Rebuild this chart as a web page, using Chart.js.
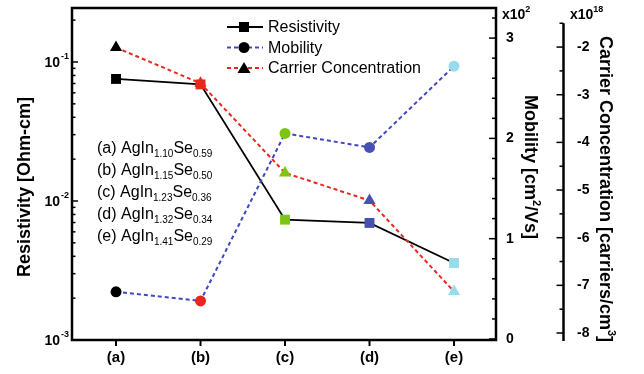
<!DOCTYPE html>
<html>
<head>
<meta charset="utf-8">
<script src="https://cdn.jsdelivr.net/npm/chart.js@4/dist/chart.umd.min.js"></script>
<style>
  body { margin: 0; background: #fff; }
  #wrap { width: 644px; height: 374px; position: relative; }
</style>
</head>
<body>
<div id="wrap"><canvas id="chart"></canvas></div>
<script>
// samples and measured values
const categories = ['(a)', '(b)', '(c)', '(d)', '(e)'];
const inSub = ['1.10', '1.15', '1.23', '1.32', '1.41'];
const seSub = ['0.59', '0.50', '0.36', '0.34', '0.29'];
const resistivity = [0.0755, 0.069, 0.00734, 0.00695, 0.00358];   // Ohm-cm
const mobility = [0.47, 0.38, 2.05, 1.91, 2.72];                  // x10^2 cm2/Vs
const carrier = [-2.01, -2.76, -4.64, -5.22, -7.13];              // x10^18 carriers/cm3
const pointColors = ['#000000', '#e8281e', '#7dc414', '#4652ae', '#96dcec'];

// axis ticks
const resistivityTicks = [0.001, 0.01, 0.1];
const resistivityTickLabels = ['-3', '-2', '-1'];
const mobilityTicks = [0, 1, 2, 3];
const carrierTicks = [-8, -7, -6, -5, -4, -3, -2];

const FONT = 'Arial, "Liberation Sans", sans-serif';

function toPoints(values) {
    return categories.map(function(c, i) { return { x: i, y: values[i] }; });
}

// draw a run of text pieces: [text, font, dy]
function drawRuns(ctx, runs, x, y, align) {
    let total = 0;
    runs.forEach(function(r) { ctx.font = r[1]; total += ctx.measureText(r[0]).width; });
    let cx = align === 'center' ? x - total / 2 : (align === 'right' ? x - total : x);
    ctx.textAlign = 'left';
    runs.forEach(function(r) {
        ctx.font = r[1];
        ctx.fillText(r[0], cx, y + (r[2] || 0));
        cx += ctx.measureText(r[0]).width;
    });
}

const axesPlugin = {
    id: 'axesPlugin',
    afterDraw: function(chart) {
        const ctx = chart.ctx;
        const area = chart.chartArea;
        const sx = chart.scales.x, sy = chart.scales.y, sm = chart.scales.yMob, sc = chart.scales.yCar;
        ctx.save();
        ctx.strokeStyle = '#000';
        ctx.fillStyle = '#000';
        ctx.lineCap = 'butt';

        // frame
        ctx.lineWidth = 2.5;
        ctx.strokeRect(area.left, area.top, area.right - area.left, area.bottom - area.top);

        // left log ticks (inward)
        ctx.lineWidth = 1.5;
        for (let k = -3; k <= -1; k++) {
            for (let m = 1; m <= 9; m++) {
                const v = m * Math.pow(10, k);
                if (v > sy.max) continue;
                const py = sy.getPixelForValue(v);
                const len = m === 1 ? 6 : 3.5;
                ctx.beginPath(); ctx.moveTo(area.left, py); ctx.lineTo(area.left + len, py); ctx.stroke();
            }
        }
        ctx.textBaseline = 'middle';
        resistivityTicks.forEach(function(v, i) {
            const py = sy.getPixelForValue(v);
            drawRuns(ctx, [['10', 'bold 14px ' + FONT, 0]], 60, py + 1, 'right');
            drawRuns(ctx, [[resistivityTickLabels[i], 'bold 9px ' + FONT, 0]], 61, py - 5, 'left');
        });

        // mobility axis ticks (inward, left)
        for (let v = 0; v <= 3.21; v += 0.2) {
            const py = sm.getPixelForValue(v);
            const major = Math.abs(v - Math.round(v)) < 0.01;
            ctx.beginPath(); ctx.moveTo(area.right, py); ctx.lineTo(area.right - (major ? 7 : 4), py); ctx.stroke();
        }
        mobilityTicks.forEach(function(v) {
            drawRuns(ctx, [[String(v), 'bold 14px ' + FONT, 0]], 506, sm.getPixelForValue(v), 'left');
        });
        drawRuns(ctx, [['x10', 'bold 14px ' + FONT, 0], ['2', 'bold 9px ' + FONT, -5]], 502, 15, 'left');

        // carrier concentration axis
        const cx = 563.5;
        ctx.lineWidth = 2.5;
        ctx.beginPath(); ctx.moveTo(cx, sc.getPixelForValue(-1.5)); ctx.lineTo(cx, area.bottom + 1); ctx.stroke();
        ctx.lineWidth = 1.5;
        for (let v = -8; v <= -1.49; v += 0.5) {
            const py = sc.getPixelForValue(v);
            const major = Math.abs(v - Math.round(v)) < 0.01;
            ctx.beginPath(); ctx.moveTo(cx, py); ctx.lineTo(cx - (major ? 7 : 4), py); ctx.stroke();
        }
        carrierTicks.forEach(function(v) {
            drawRuns(ctx, [[String(v), 'bold 14px ' + FONT, 0]], 577, sc.getPixelForValue(v), 'left');
        });
        drawRuns(ctx, [['x10', 'bold 14px ' + FONT, 0], ['18', 'bold 9px ' + FONT, -5]], 570, 15, 'left');

        // x ticks and labels
        ctx.lineWidth = 2;
        categories.forEach(function(c, i) {
            const px = sx.getPixelForValue(i);
            ctx.beginPath(); ctx.moveTo(px, area.bottom); ctx.lineTo(px, area.bottom + 6); ctx.stroke();
            drawRuns(ctx, [[c, 'bold 15px ' + FONT, 0]], px, 358, 'center');
        });

        // axis titles
        const tf = 'bold 18px ' + FONT, sf = 'bold 11px ' + FONT;
        ctx.save();
        ctx.translate(25, 187); ctx.rotate(-Math.PI / 2);
        drawRuns(ctx, [['Resistivity [Ohm-cm]', tf, 0]], 0, 0, 'center');
        ctx.restore();
        ctx.save();
        ctx.translate(530, 167); ctx.rotate(Math.PI / 2);
        drawRuns(ctx, [['Mobility [cm', tf, 0], ['2', sf, -6], ['/Vs]', tf, 0]], 0, 0, 'center');
        ctx.restore();
        ctx.save();
        ctx.translate(605, 189); ctx.rotate(Math.PI / 2);
        drawRuns(ctx, [['Carrier Concentration [carriers/cm', tf, 0], ['3', sf, -6], [']', tf, 0]], 0, 0, 'center');
        ctx.restore();

        // sample compositions
        ctx.textBaseline = 'alphabetic';
        const nf = '16px ' + FONT, subf = '10px ' + FONT;
        categories.forEach(function(c, i) {
            drawRuns(ctx, [
                [c + ' AgIn', nf, 0], [inSub[i], subf, 4],
                ['Se', nf, 0], [seSub[i], subf, 4]
            ], 97, 153 + i * 22, 'left');
        });

        // legend
        const legend = [
            { label: 'Resistivity', color: '#000', dash: [], style: 'rect' },
            { label: 'Mobility', color: '#3f48c0', dash: [4, 3], style: 'circle' },
            { label: 'Carrier Concentration', color: '#e8281e', dash: [4, 3], style: 'triangle' }
        ];
        legend.forEach(function(l, i) {
            const ly = 27 + i * 20.5;
            ctx.strokeStyle = l.color;
            ctx.lineWidth = 2;
            ctx.setLineDash(l.dash);
            ctx.beginPath(); ctx.moveTo(227, ly); ctx.lineTo(263, ly); ctx.stroke();
            ctx.setLineDash([]);
            ctx.fillStyle = '#000';
            ctx.beginPath();
            if (l.style === 'rect') ctx.rect(239, ly - 5, 10, 10);
            else if (l.style === 'circle') ctx.arc(244, ly, 5.5, 0, Math.PI * 2);
            else { ctx.moveTo(244, ly - 6); ctx.lineTo(250.5, ly + 5); ctx.lineTo(237.5, ly + 5); ctx.closePath(); }
            ctx.fill();
            ctx.textBaseline = 'middle';
            drawRuns(ctx, [[l.label, '16px ' + FONT, 0]], 268, ly + 1, 'left');
        });
        ctx.restore();
    }
};

new Chart(document.getElementById('chart'), {
    type: 'line',
    data: {
        datasets: [
            {
                label: 'Resistivity',
                data: toPoints(resistivity),
                yAxisID: 'y',
                borderColor: '#000',
                borderWidth: 1.8,
                pointStyle: 'rect',
                pointRadius: 7,
                pointBackgroundColor: pointColors,
                pointBorderColor: pointColors,
                pointBorderWidth: 0,
                order: 2
            },
            {
                label: 'Mobility',
                data: toPoints(mobility),
                yAxisID: 'yMob',
                borderColor: '#3f48c0',
                borderWidth: 2,
                borderDash: [4, 3],
                pointStyle: 'circle',
                pointRadius: 5.5,
                pointBackgroundColor: pointColors,
                pointBorderColor: pointColors,
                pointBorderWidth: 0,
                order: 1
            },
            {
                label: 'Carrier Concentration',
                data: toPoints(carrier),
                yAxisID: 'yCar',
                borderColor: '#e8281e',
                borderWidth: 2,
                borderDash: [4, 3],
                pointStyle: 'triangle',
                pointRadius: 7,
                pointBackgroundColor: pointColors,
                pointBorderColor: pointColors,
                pointBorderWidth: 0,
                order: 0
            }
        ]
    },
    options: {
        responsive: true,
        maintainAspectRatio: false,
        animation: false,
        layout: { padding: { left: 72, right: 148, top: 8, bottom: 34 } },
        plugins: {
            legend: { display: false },
            tooltip: { enabled: false }
        },
        elements: { line: { tension: 0 } },
        scales: {
            x: { type: 'linear', display: false, min: -0.521, max: 4.497 },
            y: { type: 'logarithmic', display: false, min: 0.001, max: 0.2445 },
            yMob: { type: 'linear', display: false, min: -0.01, max: 3.30 },
            yCar: { type: 'linear', display: false, min: -8.147, max: -1.18 }
        }
    },
    plugins: [axesPlugin]
});
</script>
</body>
</html>
